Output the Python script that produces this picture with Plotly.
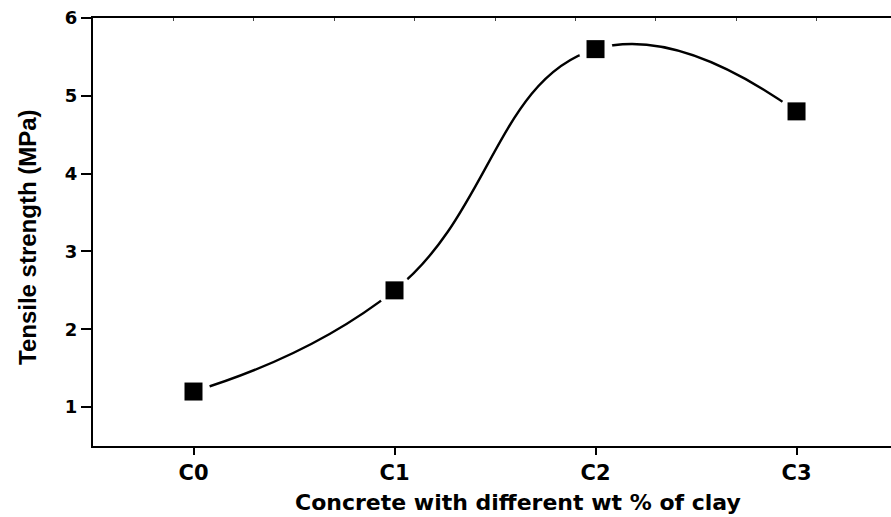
import plotly.graph_objects as go

categories = ["C0", "C1", "C2", "C3"]
tensile_strength = [1.2, 2.5, 5.6, 4.8]
x_index = [0, 1, 2, 3]
y_ticks = [1, 2, 3, 4, 5, 6]

fig = go.Figure()

# smooth connecting curve
fig.add_trace(go.Scatter(
    x=x_index, y=tensile_strength, mode="lines",
    line=dict(color="black", width=2.4, shape="spline", smoothing=1.3),
    hoverinfo="skip", showlegend=False))
# white halo to create gaps around markers
fig.add_trace(go.Scatter(
    x=x_index, y=tensile_strength, mode="markers",
    marker=dict(symbol="circle", size=34, color="white"),
    hoverinfo="skip", showlegend=False))
# black square markers
fig.add_trace(go.Scatter(
    x=x_index, y=tensile_strength, mode="markers",
    marker=dict(symbol="square", size=18, color="black"),
    showlegend=False))
# invisible trace for top axis
fig.add_trace(go.Scatter(x=[0], y=[1], xaxis="x2", mode="markers",
                         marker=dict(opacity=0), hoverinfo="skip", showlegend=False))

fig.update_layout(
    width=891, height=517,
    margin=dict(l=93, r=0, t=18, b=71),
    paper_bgcolor="white", plot_bgcolor="white",
    xaxis=dict(
        range=[-0.5, 3.47], tickmode="array", tickvals=x_index, ticktext=categories,
        showgrid=False, zeroline=False, showline=True, linecolor="black", linewidth=2,
        ticks="outside", ticklen=7, tickwidth=2, tickcolor="black",
        tickfont=dict(family="DejaVu Sans", size=21, color="black", weight="bold"),
    ),
    xaxis2=dict(
        overlaying="x", side="top", range=[-0.5, 3.47],
        tick0=-0.1, dtick=0.4, ticks="inside", ticklen=3, tickwidth=1, tickcolor="#444",
        showticklabels=False, showgrid=False, zeroline=False,
        showline=True, linecolor="black", linewidth=2,
    ),
    yaxis=dict(
        range=[0.5, 6], tickmode="array", tickvals=y_ticks,
        showgrid=False, zeroline=False, showline=True, linecolor="black", linewidth=2,
        ticks="outside", ticklen=10, tickwidth=2, tickcolor="black",
        tickfont=dict(family="DejaVu Sans", size=18, color="black", weight="bold"),
    ),
    annotations=[
        dict(text="Concrete with different wt % of clay", xref="paper", yref="paper",
             x=(518 - 93) / 798, y=-(503 - 446) / 428, xanchor="center", yanchor="middle",
             showarrow=False,
             font=dict(family="DejaVu Sans", size=22, color="black", weight="bold")),
        dict(text="Tensile strength (MPa)", xref="paper", yref="paper",
             x=(27 - 93) / 798, y=(446 - 237) / 428, xanchor="center", yanchor="middle",
             textangle=-90, showarrow=False,
             font=dict(family="Liberation Sans, Arial", size=24, color="black", weight="bold")),
    ],
)

fig.write_html("out.html")
